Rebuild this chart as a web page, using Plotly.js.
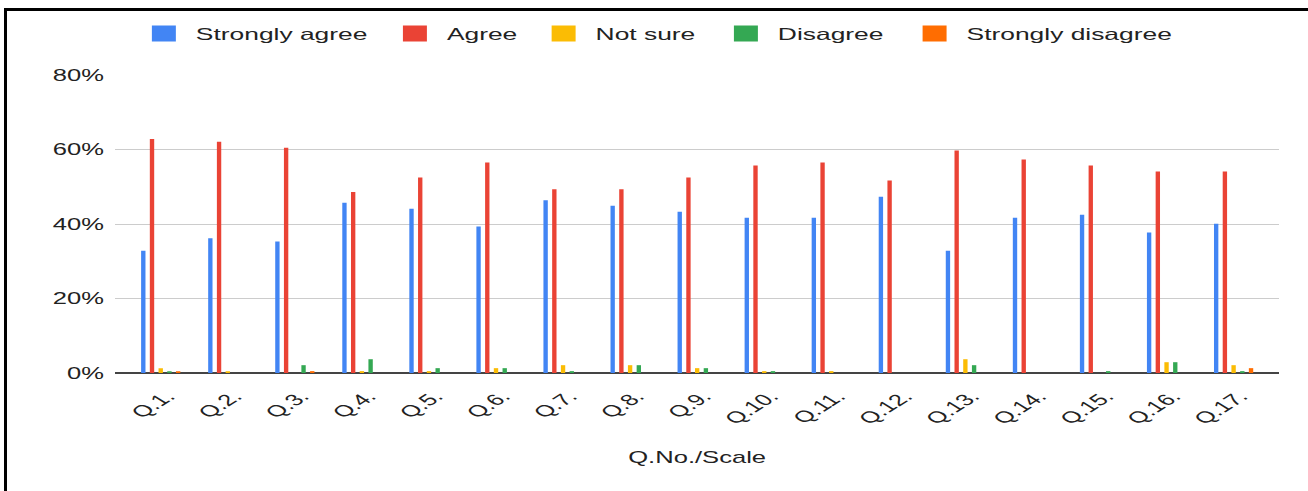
<!DOCTYPE html>
<html><head><meta charset="utf-8">
<script src="https://cdn.plot.ly/plotly-3.0.1.min.js"></script>
<style>
html,body{margin:0;padding:0;background:#fff;overflow:hidden;}
#wrap{position:relative;width:1308px;height:491px;overflow:hidden;background:#fff;}
#chart{position:absolute;left:0;top:0;width:818px;height:491px;transform:scaleX(1.599);transform-origin:0 0;}
#frame{position:absolute;left:4px;top:8px;width:1400px;height:600px;border-top:3px solid #000;border-left:3px solid #000;pointer-events:none;}
</style></head>
<body><div id="wrap"><div id="chart"></div><div id="frame"></div></div>
<script>
const categories = ['Q.1.','Q.2.','Q.3.','Q.4.','Q.5.','Q.6.','Q.7.','Q.8.','Q.9.','Q.10.','Q.11.','Q.12.','Q.13.','Q.14.','Q.15.','Q.16.','Q.17.'];
const stronglyAgree    = [32.8, 36.2, 35.3, 45.7, 44.1, 39.3, 46.4, 44.9, 43.3, 41.7, 41.7, 47.3, 32.8, 41.7, 42.5, 37.7, 40.1];
const agree            = [62.8, 62.1, 60.5, 48.6, 52.5, 56.5, 49.3, 49.3, 52.5, 55.7, 56.5, 51.7, 59.7, 57.3, 55.7, 54.1, 54.1];
const notSure          = [1.3, 0.5, 0, 0.5, 0.5, 1.3, 2.1, 2.1, 1.3, 0.5, 0.5, 0, 3.7, 0, 0, 2.9, 2.1];
const disagree         = [0.5, 0, 2.1, 3.7, 1.3, 1.3, 0.5, 2.1, 1.3, 0.5, 0, 0, 2.1, 0, 0.5, 2.9, 0.5];
const stronglyDisagree = [0.5, 0, 0.5, 0, 0, 0, 0, 0, 0, 0, 0, 0, 0, 0, 0, 0, 1.3];
const seriesNames = ['Strongly agree','Agree','Not sure','Disagree','Strongly disagree'];
const yTicks = [0, 20, 40, 60, 80];
const yTickLabels = ['0%', '20%', '40%', '60%', '80%'];

const seriesValues = [stronglyAgree, agree, notSure, disagree, stronglyDisagree];
const colors = ['#4285F4','#EA4335','#FBBC04','#34A853','#FF6D01'];
const legendWidths = [112, 48, 69, 73, 135];
const FONT = 'Liberation Sans, Arial, sans-serif';

const data = seriesValues.map((v, i) => ({
  type: 'bar', x: categories, y: v, name: seriesNames[i],
  marker: {color: colors[i]}, hoverinfo: 'skip', legendwidth: legendWidths[i]
}));

const layout = {
  width: 818, height: 491,
  margin: {l: 72, r: 18, t: 75, b: 118},
  paper_bgcolor: 'rgba(0,0,0,0)', plot_bgcolor: '#fff',
  font: {family: FONT, size: 16, color: '#222'},
  barmode: 'group', bargap: 0.35, bargroupgap: 0.5,
  showlegend: true,
  legend: {orientation: 'h', x: 0.0144, xanchor: 'left', y: 1.138, yanchor: 'middle',
           font: {family: FONT, size: 16.5, color: '#222'}, traceorder: 'normal'},
  xaxis: {type: 'category', range: [-0.68, 16.68], showgrid: false, ticks: '',
          tickangle: -45, tickfont: {family: FONT, size: 16, color: '#222'},
          ticklabelstandoff: 10, ticklabelshift: 4,
          showline: false, automargin: false,
          title: {text: 'Q.No./Scale', standoff: 25, font: {family: FONT, size: 16, color: '#222'}}},
  yaxis: {range: [0, 80], tickmode: 'array', tickvals: yTicks, ticktext: yTickLabels, showgrid: true,
          gridcolor: '#ccc', gridwidth: 1, zeroline: true, zerolinecolor: '#444', zerolinewidth: 1.5,
          ticks: '', ticklabelstandoff: 6, automargin: false,
          tickfont: {family: FONT, size: 16, color: '#222'}},
  hovermode: false
};

Plotly.newPlot('chart', data, layout, {displayModeBar: false, staticPlot: true}).then(() => {
  document.querySelectorAll('#chart .legend .legendpoints path').forEach(p => {
    p.setAttribute('d', 'M7.5,8H-7.5V-8H7.5Z');
  });
});
</script>
</body></html>
